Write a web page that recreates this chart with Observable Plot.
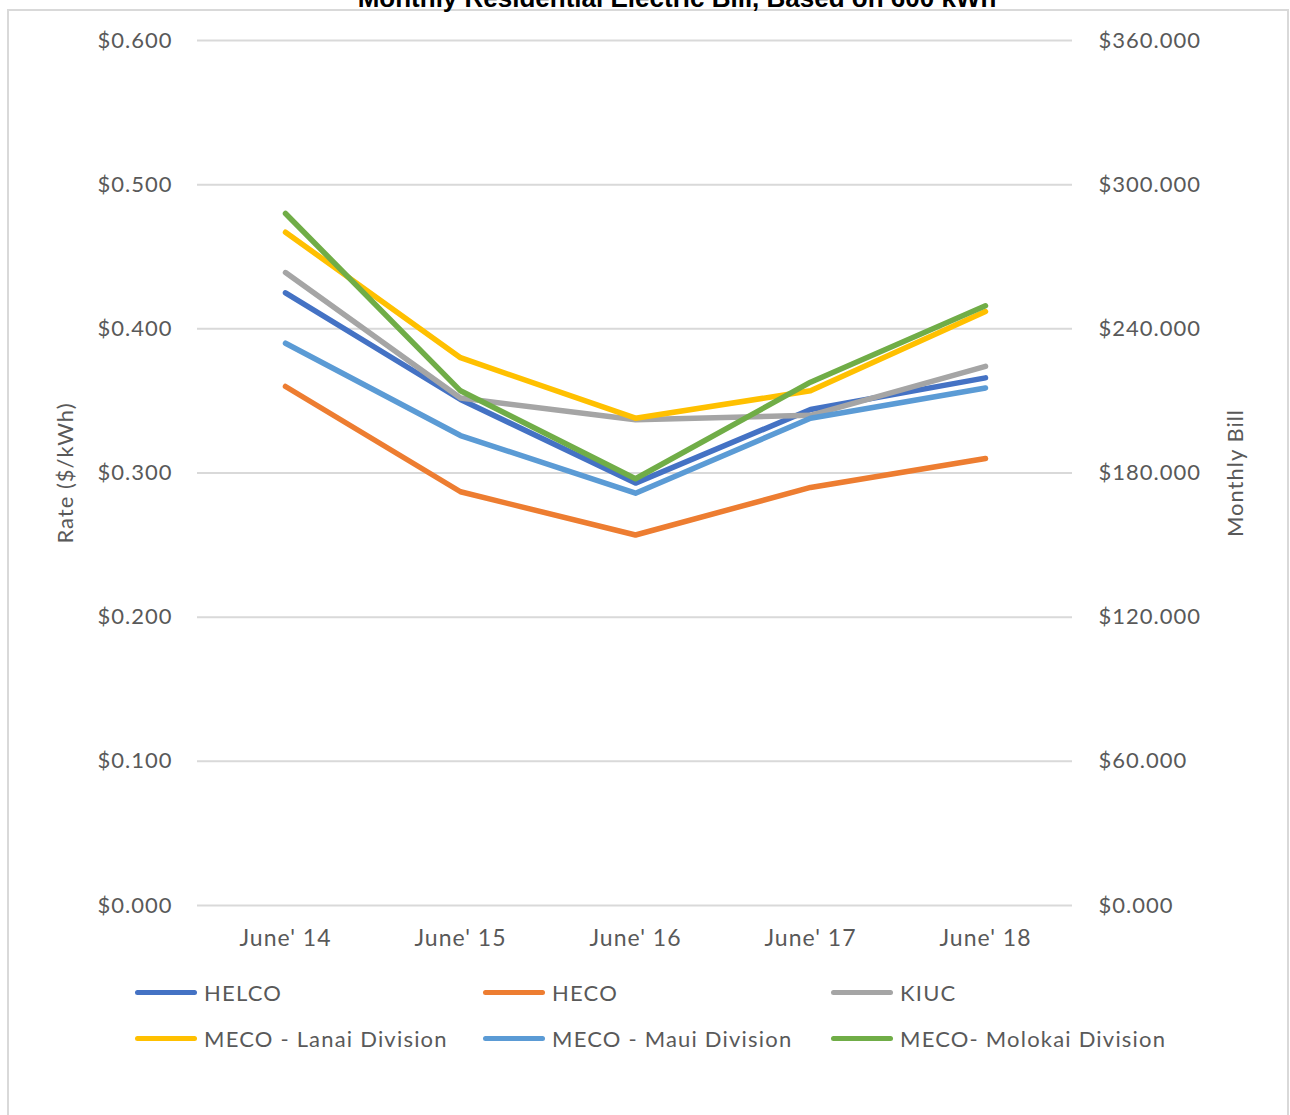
<!DOCTYPE html>
<html>
<head>
<meta charset="utf-8">
<script src="https://cdn.jsdelivr.net/npm/d3@7"></script>
<script src="https://cdn.jsdelivr.net/npm/@observablehq/plot@0.6"></script>
<style>
  html, body { margin: 0; padding: 0; background: #fff; }
  body { width: 1290px; height: 1115px; position: relative; overflow: hidden; font-family: Lato, "Open Sans", sans-serif; }
  #frame { position: absolute; left: 7px; top: 9px; width: 1282px; height: 1120px; border: 2px solid #d9d9d9; box-sizing: border-box; }
  #title { position: absolute; left: 0; width: 1354px; top: -17px; text-align: center; font-family: "Liberation Sans", Arial, sans-serif; font-weight: bold; font-size: 26px; color: #000; }
  #chart { position: absolute; left: 0; top: 0; }
  #legend { position: absolute; left: 0; top: 0; }
  .li { position: absolute; display: flex; align-items: center; font-size: 22px; letter-spacing: 1.2px; color: #595959; white-space: nowrap; }
  .sw { width: 62px; height: 5px; border-radius: 3px; margin-right: 7px; }
  #chart svg text { letter-spacing: 1px; }
</style>
</head>
<body>
<div id="frame"></div>
<div id="title">Monthly Residential Electric Bill, Based on 600 kWh</div>
<div id="chart"></div>
<div id="legend"></div>
<script>
const periods = ["June' 14", "June' 15", "June' 16", "June' 17", "June' 18"];
const seriesNames = ["HELCO", "HECO", "KIUC", "MECO - Lanai Division", "MECO - Maui Division", "MECO- Molokai Division"];
const seriesColors = ["#4472C4", "#ED7D31", "#A5A5A5", "#FFC000", "#5B9BD5", "#70AD47"];
const helco   = [0.425, 0.351, 0.293, 0.344, 0.366];
const heco    = [0.360, 0.287, 0.257, 0.290, 0.310];
const kiuc    = [0.439, 0.352, 0.337, 0.340, 0.374];
const lanai   = [0.467, 0.380, 0.338, 0.357, 0.412];
const maui    = [0.390, 0.326, 0.286, 0.338, 0.359];
const molokai = [0.480, 0.357, 0.296, 0.363, 0.416];
const rateTicks = [0, 0.1, 0.2, 0.3, 0.4, 0.5, 0.6];
const kWhPerMonth = 600;

const allValues = [helco, heco, kiuc, lanai, maui, molokai];
const rows = [];
seriesNames.forEach((name, i) => {
  allValues[i].forEach((v, j) => rows.push({series: name, period: periods[j], rate: v}));
});

const chart = Plot.plot({
  width: 1290,
  height: 960,
  marginLeft: 197,
  marginRight: 218,
  marginTop: 40,
  marginBottom: 55,
  style: {fontFamily: "Lato, 'Open Sans', sans-serif", fontSize: "22px", color: "#595959", background: "transparent"},
  x: {type: "point", domain: periods, padding: 0.5},
  y: {domain: [0, 0.6]},
  color: {domain: seriesNames, range: seriesColors},
  marks: [
    Plot.gridY(rateTicks, {stroke: "#d9d9d9", strokeOpacity: 1, strokeWidth: 2}),
    Plot.axisY(rateTicks, {anchor: "left", tickSize: 0, tickPadding: 25, tickFormat: d => "$" + d.toFixed(3),
      label: "Rate ($/kWh)", labelAnchor: "center", labelArrow: "none", labelOffset: 140, fill: "#595959"}),
    Plot.axisY(rateTicks, {anchor: "right", tickSize: 0, tickPadding: 26, tickFormat: d => "$" + (d * kWhPerMonth).toFixed(3),
      label: "Monthly Bill", labelAnchor: "center", labelArrow: "none", labelOffset: 170, fill: "#595959"}),
    Plot.axisX({tickSize: 0, tickPadding: 24, label: null, fill: "#595959", fontSize: 23}),
    Plot.line(rows, {x: "period", y: "rate", z: "series", stroke: "series", strokeWidth: 5.5, strokeLinecap: "round", strokeLinejoin: "round"})
  ]
});
document.getElementById("chart").appendChild(chart);

const legend = document.getElementById("legend");
const colX = [135, 483, 831];
const rowY = [993, 1039];
seriesNames.forEach((name, i) => {
  const el = document.createElement("div");
  el.className = "li";
  el.style.left = colX[i % 3] + "px";
  el.style.top = (rowY[Math.floor(i / 3)] - 15) + "px";
  el.style.height = "28px";
  const sw = document.createElement("div");
  sw.className = "sw";
  sw.style.background = seriesColors[i];
  const tx = document.createElement("span");
  tx.textContent = name;
  el.appendChild(sw);
  el.appendChild(tx);
  legend.appendChild(el);
});
</script>
</body>
</html>
